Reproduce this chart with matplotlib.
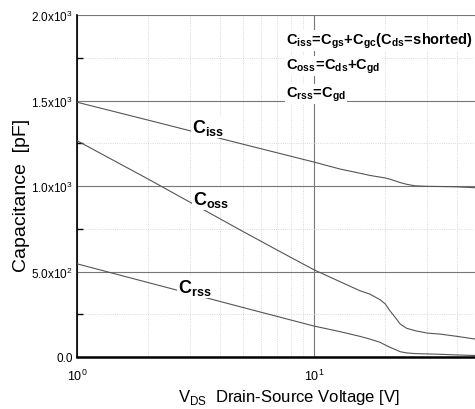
import matplotlib
matplotlib.use('Agg')
import matplotlib.pyplot as plt
from matplotlib.ticker import FixedLocator, NullFormatter

# valori
vds = [1, 2, 3, 5, 7, 10, 12.9, 15.6, 17.2, 19.0, 20, 20.9, 22.0, 23.1, 24.6, 26.7, 30, 34, 40, 47.8]
ciss = [1490, 1385, 1323, 1245, 1194, 1140, 1099, 1075, 1062, 1052, 1047, 1040, 1030, 1020,
        1010, 1001, 998, 997, 995, 990]
coss = [1265, 1040, 905, 735, 625, 510, 440, 388, 368, 335, 310, 271, 232, 193,
        168, 154, 140, 134, 121, 105]
crss = [545, 435, 371, 290, 237, 181, 148, 121, 105, 86, 70, 57, 44, 31,
        24, 20, 18, 16, 12, 9]

y_ticks = [0, 500, 1000, 1500, 2000]
y_labels = ['0.0', r'5.0x10$^2$', r'1.0x10$^3$', r'1.5x10$^3$', r'2.0x10$^3$']
x_ticks = [1, 10]
x_labels = [r'10$^0$', r'10$^1$']

plt.rcParams['font.family'] = ['Liberation Sans', 'DejaVu Sans']
plt.rcParams['mathtext.fontset'] = 'custom'
plt.rcParams['mathtext.rm'] = 'Liberation Sans'
plt.rcParams['mathtext.bf'] = 'Liberation Sans:bold'

fig = plt.figure(figsize=(4.75, 4.1), dpi=100)
ax = fig.add_axes([77 / 475, 52 / 410, 398 / 475, 342 / 410])

line_kw = dict(color='#555555', lw=0.8, zorder=3)
ax.plot(vds, ciss, **line_kw)
ax.plot(vds, coss, **line_kw)
ax.plot(vds, crss, **line_kw)

ax.set_xscale('log')
ax.set_xlim(1, 47.8)
ax.set_ylim(0, 2000)

# grila
ax.xaxis.set_major_locator(FixedLocator(x_ticks))
ax.xaxis.set_minor_locator(FixedLocator([2, 3, 4, 5, 6, 7, 8, 9, 20, 30, 40]))
ax.xaxis.set_minor_formatter(NullFormatter())
ax.set_xticklabels(x_labels, fontsize=9)
ax.yaxis.set_major_locator(FixedLocator(y_ticks))
ax.yaxis.set_minor_locator(FixedLocator([250, 750, 1250, 1750]))
ax.set_yticklabels(y_labels, fontsize=8.5)

ax.grid(which='major', color='#777777', lw=0.8, ls='-')
ax.grid(which='minor', color='#cccccc', lw=0.6, ls=':')
ax.tick_params(axis='x', which='both', length=0, pad=8)
ax.tick_params(axis='y', which='major', length=0, pad=3)
ax.tick_params(axis='y', which='minor', direction='in', length=4, width=1, color='black')

for s in ['top', 'right']:
    ax.spines[s].set_visible(False)
ax.spines['left'].set_linewidth(1.2)
ax.spines['bottom'].set_linewidth(1.8)

# etichete pentru curbe
box = dict(facecolor='white', edgecolor='none', pad=0.5)
ax.text(3.06, 1316, r'$\mathbf{C_{iss}}$', fontsize=13, va='baseline', bbox=box, zorder=5)
ax.text(3.09, 895, r'$\mathbf{C_{oss}}$', fontsize=13, va='baseline', bbox=box, zorder=5)
ax.text(2.67, 380, r'$\mathbf{C_{rss}}$', fontsize=13, va='baseline', bbox=box, zorder=5)

# formule
ax.text(7.6, 1830, r'$\mathbf{C_{iss}\!=\!C_{gs}{+}C_{gc}(C_{ds}\!=\!shorted)}$',
        fontsize=10.5, va='baseline', bbox=box, zorder=5)
ax.text(7.6, 1684, r'$\mathbf{C_{oss}\!=\!C_{ds}{+}C_{gd}}$',
        fontsize=10.5, va='baseline', bbox=box, zorder=5)
ax.text(7.6, 1520, r'$\mathbf{C_{rss}\!=\!C_{gd}}$',
        fontsize=10.5, va='baseline', bbox=box, zorder=5)

fig.text(22 / 475, 1 - 195 / 410, 'Capacitance  [pF]', rotation=90,
         ha='center', va='center', fontsize=14)
fig.text(289 / 475, 1 - 402 / 410, r'V$_{\mathregular{DS}}$  Drain-Source Voltage [V]',
         ha='center', va='baseline', fontsize=12)

fig.savefig('out.png', dpi=100)
